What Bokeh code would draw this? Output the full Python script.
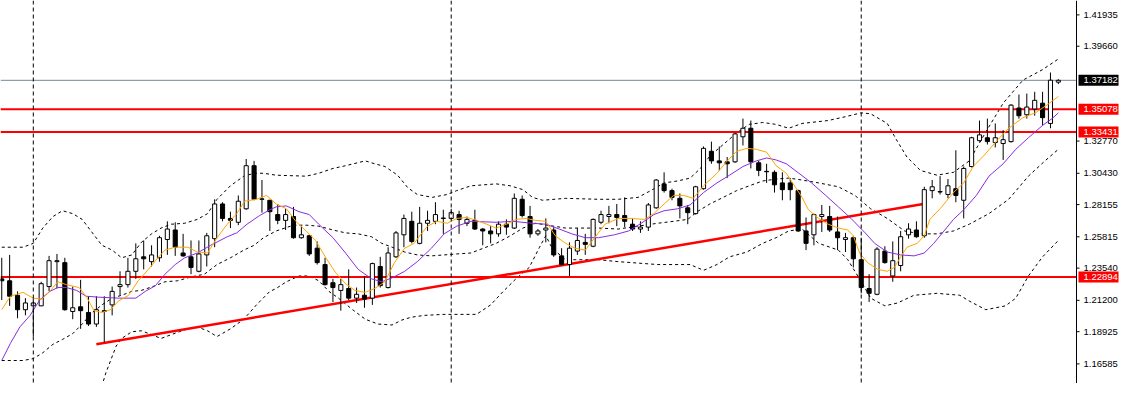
import numpy as np
from bokeh.plotting import figure
from bokeh.models import Range1d, Span
from bokeh.core.properties import value
from bokeh.embed import file_html
from bokeh.resources import INLINE

# ---------------- data (prices) ----------------
opens = [1.2276,1.2262,1.2157,1.2052,1.2080,1.2080,1.2220,1.2401,1.2394,1.2039,
         1.2073,1.2032,1.1948,1.2045,1.2087,1.2220,1.2234,1.2331,1.2436,1.2401,
         1.2429,1.2562,1.2631,1.2464,1.2436,1.2331,1.2450,1.2568,1.2820,1.2715,
         1.2687,1.2785,1.3098,1.2854,1.2847,1.2743,1.2701,1.2729,1.2575,1.2589,
         1.2499,1.2380,1.2248,1.2192,1.2206,1.2136,1.2157,1.2136,1.2366,1.2213,
         1.2436,1.2596,1.2694,1.2534,1.2680,1.2694,1.2715,1.2715,1.2743,1.2680,
         1.2701,1.2638,1.2624,1.2603,1.2673,1.2645,1.2854,1.2729,1.2603,1.2631,
         1.2631,1.2443,1.2380,1.2478,1.2541,1.2513,1.2687,1.2729,1.2743,1.2736,
         1.2673,1.2638,1.2652,1.2792,1.2966,1.2917,1.2861,1.2792,1.2750,1.2931,
         1.3203,1.3133,1.3126,1.3126,1.3308,1.3370,1.3119,1.3057,1.3050,1.2973,
         1.2973,1.2917,1.2624,1.2596,1.2729,1.2729,1.2617,1.2562,1.2575,1.2415,
         1.2206,1.2164,1.2478,1.2297,1.2373,1.2596,1.2631,1.2589,1.2917,1.2910,
         1.2889,1.2931,1.2847,1.3092,1.3280,1.3301,1.3266,1.3259,1.3273,1.3517,
         1.3468,1.3510,1.3552,1.3405,1.3705]
highs = [1.2429,1.2450,1.2185,1.2136,1.2136,1.2255,1.2443,1.2457,1.2429,1.2220,
         1.2269,1.2150,1.2150,1.2150,1.2220,1.2331,1.2429,1.2534,1.2555,1.2520,
         1.2589,1.2694,1.2687,1.2603,1.2555,1.2555,1.2610,1.2854,1.2833,1.2764,
         1.2882,1.3147,1.3133,1.2994,1.2850,1.2820,1.2785,1.2799,1.2659,1.2596,
         1.2548,1.2429,1.2276,1.2276,1.2345,1.2213,1.2297,1.2394,1.2436,1.2506,
         1.2624,1.2743,1.2764,1.2799,1.2771,1.2833,1.2778,1.2785,1.2771,1.2729,
         1.2778,1.2645,1.2659,1.2694,1.2708,1.2896,1.2882,1.2806,1.2638,1.2715,
         1.2652,1.2499,1.2541,1.2645,1.2603,1.2715,1.2771,1.2806,1.2820,1.2868,
         1.2715,1.2694,1.2827,1.3001,1.3050,1.2931,1.2896,1.2813,1.2952,1.3238,
         1.3273,1.3238,1.3161,1.3336,1.3440,1.3426,1.3133,1.3112,1.3064,1.3050,
         1.3008,1.2924,1.2722,1.2750,1.2813,1.2806,1.2729,1.2610,1.2589,1.2575,
         1.2310,1.2506,1.2513,1.2548,1.2624,1.2680,1.2694,1.2945,1.2994,1.3022,
         1.3001,1.3210,1.3092,1.3308,1.3426,1.3440,1.3405,1.3356,1.3545,1.3615,
         1.3622,1.3635,1.3635,1.3775,1.3726]
lows = [1.2122,1.2080,1.1990,1.2011,1.1857,1.2080,1.2185,1.2206,1.2045,1.1983,
        1.1913,1.1934,1.1927,1.1815,1.2011,1.2157,1.2213,1.2276,1.2345,1.2366,
        1.2401,1.2450,1.2443,1.2436,1.2310,1.2324,1.2366,1.2506,1.2694,1.2645,
        1.2666,1.2778,1.2847,1.2757,1.2624,1.2673,1.2631,1.2568,1.2568,1.2443,
        1.2380,1.2227,1.2108,1.2045,1.2122,1.2101,1.2066,1.2087,1.2213,1.2206,
        1.2429,1.2506,1.2534,1.2527,1.2624,1.2673,1.2603,1.2708,1.2603,1.2659,
        1.2631,1.2520,1.2534,1.2582,1.2596,1.2638,1.2722,1.2575,1.2589,1.2541,
        1.2436,1.2373,1.2297,1.2450,1.2450,1.2506,1.2673,1.2680,1.2659,1.2652,
        1.2624,1.2610,1.2624,1.2785,1.2903,1.2847,1.2715,1.2673,1.2743,1.2924,
        1.3112,1.3064,1.3008,1.3119,1.3245,1.3078,1.3022,1.2973,1.2903,1.2847,
        1.2847,1.2617,1.2485,1.2520,1.2617,1.2617,1.2485,1.2471,1.2359,1.2171,
        1.2108,1.2157,1.2387,1.2255,1.2331,1.2568,1.2575,1.2575,1.2861,1.2889,
        1.2861,1.2833,1.2715,1.3085,1.3273,1.3252,1.3231,1.3140,1.3266,1.3440,
        1.3440,1.3461,1.3391,1.3370,1.3691]
closes = [1.2262,1.2150,1.2052,1.2101,1.2101,1.2241,1.2408,1.2408,1.2052,1.2066,
          1.2045,1.1948,1.2052,1.2039,1.2185,1.2234,1.2331,1.2422,1.2422,1.2450,
          1.2575,1.2638,1.2506,1.2443,1.2359,1.2457,1.2589,1.2820,1.2715,1.2701,
          1.2840,1.3098,1.2854,1.2857,1.2764,1.2701,1.2743,1.2575,1.2596,1.2457,
          1.2394,1.2234,1.2213,1.2234,1.2136,1.2164,1.2129,1.2387,1.2227,1.2464,
          1.2610,1.2715,1.2548,1.2680,1.2701,1.2743,1.2718,1.2757,1.2708,1.2708,
          1.2638,1.2624,1.2603,1.2673,1.2652,1.2861,1.2736,1.2603,1.2624,1.2645,
          1.2450,1.2380,1.2499,1.2555,1.2527,1.2708,1.2743,1.2743,1.2722,1.2694,
          1.2638,1.2652,1.2813,1.2994,1.2917,1.2868,1.2806,1.2757,1.2945,1.3224,
          1.3133,1.3119,1.3112,1.3329,1.3370,1.3126,1.3064,1.3054,1.2959,1.2924,
          1.2924,1.2624,1.2534,1.2743,1.2743,1.2631,1.2575,1.2575,1.2422,1.2213,
          1.2171,1.2492,1.2394,1.2408,1.2582,1.2638,1.2582,1.2924,1.2945,1.2907,
          1.2952,1.2882,1.3078,1.3301,1.3322,1.3273,1.3301,1.3287,1.3538,1.3461,
          1.3524,1.3573,1.3447,1.3719,1.3718]

# indicator lines (bar position, price)
ma_fast_x = [0,1.1,2.7,4.0,5.1,6.1,7.1,8.2,9.8,10.7,11.7,12.7,13.8,14.8,16.1,17.3,18.6,19.8,20.7,22.0,
             23.6,24.8,26.1,27.3,28.6,29.8,30.8,32.3,33.6,34.8,36.1,37.3,38.6,39.8,41.1,42.3,43.6,44.8,46.1,47.3,
             48.6,49.8,51.1,52.3,53.2,54.0,55.2,56.5,57.7,59.0,60.2,61.5,62.7,64.0,65.2,66.5,67.7,69.0,70.2,71.5,
             72.7,74.0,75.2,76.5,78.2,79.8,81.5,82.7,84.0,85.2,86.5,87.7,89.0,90.7,91.9,93.2,94.5,95.7,97.0,98.2,
             99.5,100.7,101.5,102.3,103.6,104.8,106.1,107.3,108.0,108.8,109.8,111.1,112.3,113.2,114.0,114.8,116.1,117.0,117.7,119.0,
             120.7,122.0,123.2,124.5,126.1,127.7,129.5,131.1,132.7,134.0]
ma_fast = [1.2052,1.2150,1.2178,1.2136,1.2129,1.2185,1.2255,1.2234,1.2213,1.2150,1.2045,1.2032,1.2052,1.2115,1.2157,1.2262,1.2345,1.2429,1.2485,1.2506,
           1.2506,1.2471,1.2464,1.2575,1.2673,1.2750,1.2840,1.2854,1.2882,1.2820,1.2785,1.2694,1.2624,1.2555,1.2429,1.2324,1.2241,1.2192,1.2178,1.2206,
           1.2255,1.2394,1.2499,1.2534,1.2603,1.2659,1.2694,1.2680,1.2715,1.2722,1.2701,1.2673,1.2645,1.2673,1.2708,1.2715,1.2701,1.2694,1.2589,1.2534,
           1.2499,1.2485,1.2575,1.2673,1.2715,1.2715,1.2708,1.2750,1.2820,1.2882,1.2882,1.2861,1.2952,1.3043,1.3126,1.3203,1.3224,1.3217,1.3196,1.3098,
           1.3043,1.2938,1.2868,1.2778,1.2715,1.2673,1.2645,1.2631,1.2589,1.2464,1.2394,1.2345,1.2331,1.2359,1.2436,1.2506,1.2534,1.2589,1.2708,1.2785,
           1.2903,1.2973,1.3092,1.3168,1.3273,1.3370,1.3447,1.3482,1.3545,1.3601]
ma_slow_x = [0,1.1,2.3,3.6,4.8,6.1,7.1,8.2,9.5,10.7,12.3,14.8,17.0,18.2,19.5,20.7,22.0,23.2,24.8,26.5,
             28.6,29.8,31.1,32.7,34.0,34.8,36.1,37.7,39.0,40.2,42.0,43.6,45.2,46.9,48.2,49.5,51.1,52.7,54.5,56.1,
             57.7,59.5,62.7,64.8,67.3,69.0,70.7,72.3,74.0,75.7,77.7,79.5,81.1,82.7,84.0,85.7,87.3,89.0,90.7,92.3,
             94.0,95.7,97.0,98.2,99.5,101.1,102.7,104.5,106.1,107.7,109.5,110.7,112.3,114.0,115.7,117.0,118.2,119.5,120.7,122.0,
             123.6,125.2,127.0,128.6,130.2,132.0,133.2,134.0]
ma_slow = [1.1683,1.1808,1.1927,1.2011,1.2122,1.2185,1.2213,1.2213,1.2192,1.2150,1.2143,1.2136,1.2136,1.2185,1.2227,1.2310,1.2380,1.2429,1.2464,1.2520,
           1.2582,1.2610,1.2673,1.2736,1.2778,1.2799,1.2806,1.2764,1.2743,1.2673,1.2575,1.2464,1.2345,1.2276,1.2255,1.2283,1.2331,1.2401,1.2499,1.2603,
           1.2659,1.2694,1.2687,1.2694,1.2680,1.2673,1.2638,1.2603,1.2575,1.2575,1.2596,1.2624,1.2680,1.2743,1.2771,1.2785,1.2813,1.2903,1.2973,1.3029,
           1.3092,1.3133,1.3154,1.3140,1.3112,1.3043,1.2973,1.2882,1.2799,1.2715,1.2610,1.2534,1.2471,1.2450,1.2443,1.2464,1.2534,1.2624,1.2708,1.2778,
           1.2882,1.3022,1.3112,1.3217,1.3301,1.3391,1.3440,1.3482]
bb_upper_x = [0,2.7,4.0,5.2,6.5,7.7,9.0,10.2,11.5,12.7,14.0,15.2,16.5,17.7,19.0,20.2,21.5,23.2,24.8,26.1,
              27.3,29.0,30.7,32.0,33.2,34.8,38.6,40.2,42.0,43.6,46.1,47.3,48.6,50.2,51.5,52.7,54.6,56.5,57.7,59.5,
              61.1,62.7,64.5,66.1,67.3,68.6,71.5,75.7,78.2,80.7,82.3,84.0,85.7,87.3,88.6,89.8,91.5,93.2,94.8,96.5,
              98.2,99.8,101.5,104.8,107.0,109.0,110.2,112.3,113.6,114.8,116.5,118.6,120.7,122.7,124.8,127.0,129.5,132.0,134.0]
bb_upper = [1.2506,1.2506,1.2534,1.2645,1.2729,1.2771,1.2750,1.2708,1.2610,1.2520,1.2485,1.2429,1.2450,1.2541,1.2603,1.2645,1.2673,1.2680,1.2708,1.2750,
            1.2854,1.2952,1.3022,1.3043,1.3043,1.3029,1.3022,1.3043,1.3078,1.3098,1.3133,1.3112,1.3092,1.3029,1.2938,1.2889,1.2868,1.2889,1.2917,1.2952,
            1.2959,1.2966,1.2952,1.2924,1.2868,1.2847,1.2861,1.2854,1.2854,1.2868,1.2917,1.2973,1.2987,1.3008,1.3078,1.3168,1.3252,1.3336,1.3398,1.3412,
            1.3398,1.3370,1.3405,1.3426,1.3454,1.3482,1.3475,1.3405,1.3273,1.3161,1.3064,1.3029,1.3050,1.3133,1.3343,1.3552,1.3719,1.3796,1.3873]
bb_mid_x = [0,2.7,4.0,5.2,6.5,7.7,9.0,10.2,11.5,12.7,14.0,15.2,16.5,17.7,19.5,20.7,22.3,24.0,25.7,27.3,
            29.0,30.7,32.0,33.2,34.8,37.0,38.6,40.2,42.0,43.6,45.2,46.9,48.2,49.5,51.1,52.7,54.5,56.1,57.7,59.5,
            61.1,62.7,64.5,66.1,67.7,71.5,75.7,78.2,80.7,83.2,85.2,87.0,88.2,89.8,91.5,93.2,94.8,96.5,98.2,99.8,
            101.5,103.6,106.1,108.2,110.2,112.3,114.5,116.5,118.6,120.7,122.7,125.2,127.7,130.2,132.3,134.0]
bb_mid = [1.1683,1.1683,1.1697,1.1739,1.1801,1.1836,1.1878,1.1948,1.2032,1.2087,1.2136,1.2157,1.2185,1.2192,1.2227,1.2255,1.2262,1.2290,1.2310,1.2380,
          1.2429,1.2485,1.2520,1.2575,1.2624,1.2666,1.2666,1.2659,1.2631,1.2610,1.2603,1.2582,1.2534,1.2506,1.2471,1.2450,1.2443,1.2450,1.2457,1.2464,
          1.2499,1.2534,1.2589,1.2645,1.2680,1.2645,1.2645,1.2638,1.2659,1.2680,1.2694,1.2708,1.2764,1.2820,1.2868,1.2917,1.2952,1.2987,1.3001,1.3008,
          1.2994,1.2973,1.2945,1.2882,1.2785,1.2715,1.2624,1.2603,1.2603,1.2624,1.2673,1.2750,1.2854,1.3022,1.3133,1.3217]
bb_lower_x = [12.0,13.2,14.5,15.2,16.5,17.7,19.0,20.2,21.5,23.2,24.8,26.1,27.3,29.0,30.7,32.3,34.0,34.8,36.1,37.7,
              39.0,40.2,41.5,42.7,44.5,46.1,47.7,49.5,50.7,51.9,53.6,56.1,60.2,62.0,63.6,65.2,66.9,68.2,69.0,69.8,
              71.5,75.7,78.2,83.2,87.3,89.0,90.7,92.3,94.5,96.5,98.2,99.8,101.5,103.6,106.1,107.3,109.0,110.2,112.0,113.6,
              115.7,118.6,121.5,122.7,124.8,127.3,128.6,130.2,132.0,134.0]
bb_lower = [1.1368,1.1592,1.1787,1.1843,1.1892,1.1899,1.1871,1.1843,1.1871,1.1906,1.1927,1.1899,1.1857,1.1913,1.1983,1.2087,1.2185,1.2206,1.2255,1.2297,
            1.2297,1.2262,1.2185,1.2136,1.2052,1.1983,1.1948,1.1941,1.1976,1.1997,1.2011,1.2018,1.2018,1.2087,1.2185,1.2276,1.2359,1.2506,1.2589,1.2499,
            1.2415,1.2415,1.2401,1.2380,1.2380,1.2338,1.2380,1.2436,1.2471,1.2534,1.2575,1.2624,1.2638,1.2534,1.2485,1.2415,1.2255,1.2136,1.2080,1.2101,
            1.2157,1.2171,1.2157,1.2115,1.2052,1.2080,1.2136,1.2297,1.2436,1.2555]

trend_x = [12.0, 117.05]
trend_y = [1.1801, 1.2822]
levels = [1.35078, 1.33431, 1.22894]
current_price = 1.37182
separator_bars = [4, 57, 109]
tick_values = [1.16585, 1.18925, 1.21200, 1.23540, 1.25815, 1.28155,
               1.30430, 1.32770, 1.39660, 1.41935]
tick_labels = [f"{t:.5f}" for t in tick_values]

# ---------------- figure ----------------
W, H = 1121, 383
X0 = -0.16
PX = 7.885                      # pixels per bar
AXIS_X = X0 + 1076 / PX         # price-scale line position (bar units)
X1 = X0 + W / PX
px = 1.0 / PX                   # one pixel in bar units
Y0, Y1 = 1.1516, 1.4298
py = (Y1 - Y0) / H              # one pixel in price units

p = figure(width=W, height=H, output_backend="svg", toolbar_location=None,
           x_range=Range1d(X0, X1), y_range=Range1d(Y0, Y1),
           x_axis_location=None, y_axis_location=None,
           min_border_left=0, min_border_top=0, min_border_bottom=0, min_border_right=0)
p.grid.visible = False
p.outline_line_color = None
p.background_fill_color = "white"
p.border_fill_color = "white"

# period separators
for b in separator_bars:
    p.add_layout(Span(location=b, dimension="height", line_color="black",
                      line_width=1, line_dash="4 3"))

# bollinger bands
for xs, ys in ((bb_upper_x, bb_upper), (bb_mid_x, bb_mid), (bb_lower_x, bb_lower)):
    p.line(xs, ys, line_color="black", line_width=1, line_dash="3 3")

# horizontal levels (stop at price scale)
n = len(levels)
p.segment(x0=[X0], y0=[current_price], x1=[AXIS_X], y1=[current_price],
          line_color="#778899", line_width=1)
p.segment(x0=[X0] * n, y0=levels, x1=[AXIS_X] * n, y1=levels,
          line_color="#ff0000", line_width=2)

# trend line
p.line(trend_x, trend_y, line_color="#ff0000", line_width=2.5)

# candles
idx = np.arange(len(opens))
o = np.array(opens); c = np.array(closes)
top = np.maximum(o, c); bot = np.minimum(o, c)
fills = ["white" if cc >= oo else "black" for oo, cc in zip(opens, closes)]
p.segment(x0=idx, y0=lows, x1=idx, y1=highs, line_color="black", line_width=1)
p.vbar(x=idx, width=0.52, top=top, bottom=bot, fill_color=fills, line_color="black", line_width=1)

# moving averages
p.line(ma_slow_x, ma_slow, line_color="#8a2be2", line_width=1)
p.line(ma_fast_x, ma_fast, line_color="#ffa500", line_width=1)

# price scale (right side)
p.add_layout(Span(location=AXIS_X, dimension="height", line_color="black", line_width=1))
m = len(tick_values)
p.segment(x0=[AXIS_X] * m, y0=tick_values, x1=[AXIS_X + 3 * px] * m, y1=tick_values,
          line_color="black", line_width=1)
p.text(x=[AXIS_X + 7 * px] * m, y=tick_values, text=tick_labels,
       text_font=value("Liberation Sans"), text_font_size="9.5px",
       text_baseline="middle", text_align="left", text_color="black")

# coloured price boxes
box_vals = levels + [current_price]
box_cols = ["#ff0000"] * n + ["black"]
k = len(box_vals)
p.quad(left=[AXIS_X + 2 * px] * k, right=[AXIS_X + 42 * px] * k,
       bottom=[v - 5.5 * py for v in box_vals], top=[v + 5.5 * py for v in box_vals],
       fill_color=box_cols, line_color=None)
p.text(x=[AXIS_X + 7 * px] * k, y=box_vals, text=[f"{v:.5f}" for v in box_vals],
       text_font=value("Liberation Sans"), text_font_size="9.5px",
       text_baseline="middle", text_align="left", text_color="white")

open("out.html", "w").write(file_html(p, INLINE))
